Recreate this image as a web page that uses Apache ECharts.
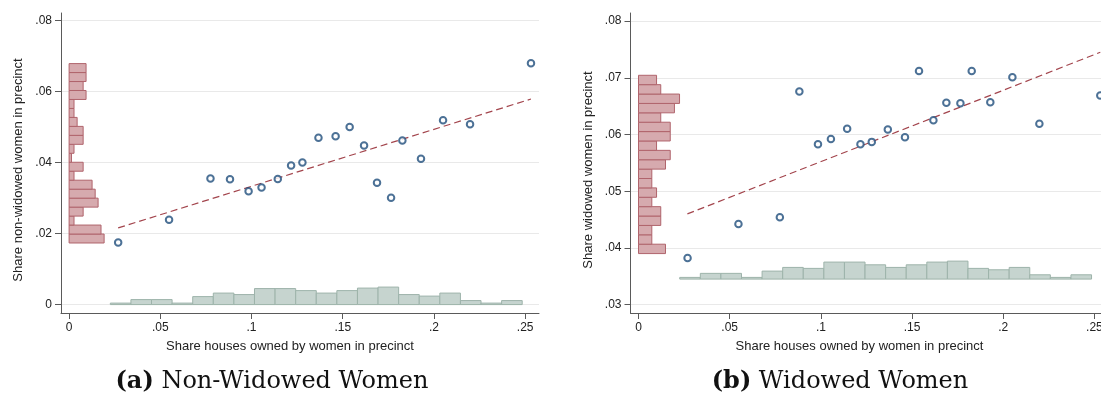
<!DOCTYPE html>
<html><head><meta charset="utf-8">
<script src="https://cdn.jsdelivr.net/npm/echarts@6/dist/echarts.min.js"></script>
<style>html,body{margin:0;padding:0;background:#fff}#c{width:1101px;height:393px}</style>
</head><body><div id="c"></div>
<script>
// ---- data ----
const xBins = [0.0269,0.0548,0.0775,0.0882,0.0984,0.1055,0.1144,0.1217,0.1279,0.1367,0.1461,0.1538,0.1617,0.1688,0.1765,0.1827,0.1929,0.2050,0.2198,0.2532];
const nonWidowed = [0.0175,0.0239,0.0355,0.0353,0.0319,0.0330,0.0354,0.0392,0.0400,0.0470,0.0474,0.0500,0.0448,0.0343,0.0301,0.0462,0.0411,0.0519,0.0508,0.0680];
const widowed = [0.0382,0.0442,0.0454,0.0676,0.0583,0.0592,0.0610,0.0583,0.0587,0.0609,0.0595,0.0712,0.0625,0.0656,0.0655,0.0712,0.0657,0.0701,0.0619,0.0669];
const fitNonWidowed = [[0.0269,0.0216],[0.2532,0.0579]];
const fitWidowed = [[0.0268,0.0460],[0.2532,0.0745]];

// histogram of share houses (bottom, green)
const xHistStart = 0.0226, xHistWidth = 0.01129;
const xHistHeightsA = [0.00042,0.00141,0.00141,0.00042,0.00225,0.00324,0.00282,0.00451,0.00451,0.00394,0.00324,0.00394,0.00465,0.00493,0.00282,0.00239,0.00324,0.00113,0.00042,0.00113];
const xHistBaseA = 0;
const xHistHeightsB = [0.00030,0.00101,0.00101,0.00030,0.00141,0.00206,0.00189,0.00300,0.00300,0.00252,0.00206,0.00252,0.00300,0.00317,0.00189,0.00164,0.00206,0.00076,0.00030,0.00076];
const xHistBaseB = 0.0345;
// histograms of the y variables (left, red), listed bottom-up
const yHistStartA = 0.01735, yHistWidthA = 0.002527;
const yHistLengthsA = [0.0192,0.0175,0.0027,0.0077,0.0159,0.0143,0.0126,0.0027,0.0077,0.0013,0.0027,0.0077,0.0077,0.0044,0.0027,0.0027,0.0093,0.0077,0.0093,0.0093];
const yHistStartB = 0.0390, yHistWidthB = 0.001655;
const yHistLengthsB = [0.0148,0.0073,0.0073,0.0122,0.0122,0.0073,0.0099,0.0073,0.0073,0.0148,0.0174,0.0099,0.0174,0.0174,0.0122,0.0197,0.0225,0.0122,0.0099];

const xTicks = [0,0.05,0.1,0.15,0.2,0.25];
const yTicksA = [0,0.02,0.04,0.06,0.08];
const yTicksB = [0.03,0.04,0.05,0.06,0.07,0.08];
const xTitle = 'Share houses owned by women in precinct';
const yTitleA = 'Share non-widowed women in precinct';
const yTitleB = 'Share widowed women in precinct';

// ---- build ----
const fmt = v => { if (Math.abs(v) < 1e-12) return '0'; return (+v.toFixed(3)).toString().replace(/^0/, ''); };
const SANS = '"Liberation Sans", Arial, sans-serif';
const axisCol = '#5a5a5a';
const redFill = '#d6aaae', redLine = '#b0646c';
const grnFill = '#c6d4cf', grnLine = '#9db3aa';
const markCol = '#1f4e7c', fitCol = '#a3454d';

function xAxis(gi, min, max) {
  return {
    gridIndex: gi, type: 'value', min, max,
    axisLine: { show: true, onZero: false, lineStyle: { color: axisCol, width: 1 } },
    axisTick: { show: true, length: 6, customValues: xTicks, lineStyle: { color: axisCol } },
    axisLabel: { customValues: xTicks, formatter: fmt, fontSize: 12, color: '#222', fontFamily: SANS, margin: 9 },
    splitLine: { show: false },
    name: xTitle, nameLocation: 'middle', nameGap: 27,
    nameTextStyle: { fontSize: 13, color: '#222', fontFamily: SANS, padding: [0, 20, 0, 0] }
  };
}
function yAxis(gi, min, max, ticks, title) {
  return {
    gridIndex: gi, type: 'value', min, max,
    axisLine: { show: true, onZero: false, lineStyle: { color: axisCol, width: 1 } },
    axisTick: { show: true, length: 6, customValues: ticks, lineStyle: { color: axisCol } },
    axisLabel: { customValues: ticks, formatter: fmt, fontSize: 12, color: '#222', fontFamily: SANS, margin: 9 },
    splitLine: { show: true, lineStyle: { color: '#e9e9e9', width: 1 } },
    name: title, nameLocation: 'middle', nameGap: 36,
    nameTextStyle: { fontSize: 13, color: '#222', fontFamily: SANS, padding: [0, 14, 0, 0] }
  };
}
function xHist(gi, heights, base) {
  const data = heights.map((h, i) => [xHistStart + i * xHistWidth, xHistStart + (i + 1) * xHistWidth, h]);
  return {
    type: 'custom', xAxisIndex: gi, yAxisIndex: gi, z: 1, silent: true,
    data,
    renderItem(params, api) {
      const p1 = api.coord([api.value(0), base + api.value(2)]);
      const p2 = api.coord([api.value(1), base]);
      return { type: 'rect', shape: { x: p1[0], y: p1[1], width: p2[0] - p1[0], height: p2[1] - p1[1] },
        style: { fill: grnFill, stroke: grnLine, lineWidth: 1 } };
    }
  };
}
function yHist(gi, start, width, lengths) {
  const data = lengths.map((w, i) => [start + i * width, start + (i + 1) * width, w]);
  return {
    type: 'custom', xAxisIndex: gi, yAxisIndex: gi, z: 1, silent: true,
    data,
    renderItem(params, api) {
      const p1 = api.coord([0, api.value(1)]);
      const p2 = api.coord([api.value(2), api.value(0)]);
      return { type: 'rect', shape: { x: p1[0], y: p1[1], width: p2[0] - p1[0], height: p2[1] - p1[1] },
        style: { fill: redFill, stroke: redLine, lineWidth: 1 } };
    }
  };
}
function scatter(gi, ys) {
  return { type: 'scatter', xAxisIndex: gi, yAxisIndex: gi, z: 5, symbol: 'emptyCircle', symbolSize: 6.5, clip: false,
    itemStyle: { color: markCol, borderColor: markCol, borderWidth: 1.3 },
    data: xBins.map((x, i) => [x, ys[i]]) };
}
function fit(gi, pts) {
  return { type: 'line', xAxisIndex: gi, yAxisIndex: gi, z: 4, symbol: 'none', data: pts,
    lineStyle: { color: fitCol, width: 1.2, type: [7, 4] } };
}

const chart = echarts.init(document.getElementById('c'), null, { renderer: 'canvas' });
chart.setOption({
  animation: false,
  backgroundColor: '#fff',
  grid: [
    { left: 61, top: 13, width: 478, height: 300, outerBoundsMode: 'none', containLabel: false },
    { left: 630.5, top: 13, width: 478, height: 300, outerBoundsMode: 'none', containLabel: false }
  ],
  xAxis: [xAxis(0, -0.00444, 0.2576), xAxis(1, -0.00439, 0.2577)],
  yAxis: [yAxis(0, -0.00237, 0.08214, yTicksA, yTitleA), yAxis(1, 0.02852, 0.08143, yTicksB, yTitleB)],
  series: [
    xHist(0, xHistHeightsA, xHistBaseA), yHist(0, yHistStartA, yHistWidthA, yHistLengthsA),
    fit(0, fitNonWidowed), scatter(0, nonWidowed),
    xHist(1, xHistHeightsB, xHistBaseB), yHist(1, yHistStartB, yHistWidthB, yHistLengthsB),
    fit(1, fitWidowed), scatter(1, widowed)
  ],
  graphic: [
    { type: 'text', x: 272, y: 382, style: { text: '{b|(a)} Non-Widowed Women', fontSize: 24, fontFamily: '"DejaVu Serif", "Liberation Serif", serif', fill: '#111', align: 'center', verticalAlign: 'middle',
      rich: { b: { fontWeight: 'bold', fontSize: 24, fontFamily: '"DejaVu Serif", "Liberation Serif", serif', fill: '#111' } } } },
    { type: 'text', x: 840, y: 382, style: { text: '{b|(b)} Widowed Women', fontSize: 24, fontFamily: '"DejaVu Serif", "Liberation Serif", serif', fill: '#111', align: 'center', verticalAlign: 'middle',
      rich: { b: { fontWeight: 'bold', fontSize: 24, fontFamily: '"DejaVu Serif", "Liberation Serif", serif', fill: '#111' } } } }
  ]
});
</script></body></html>
